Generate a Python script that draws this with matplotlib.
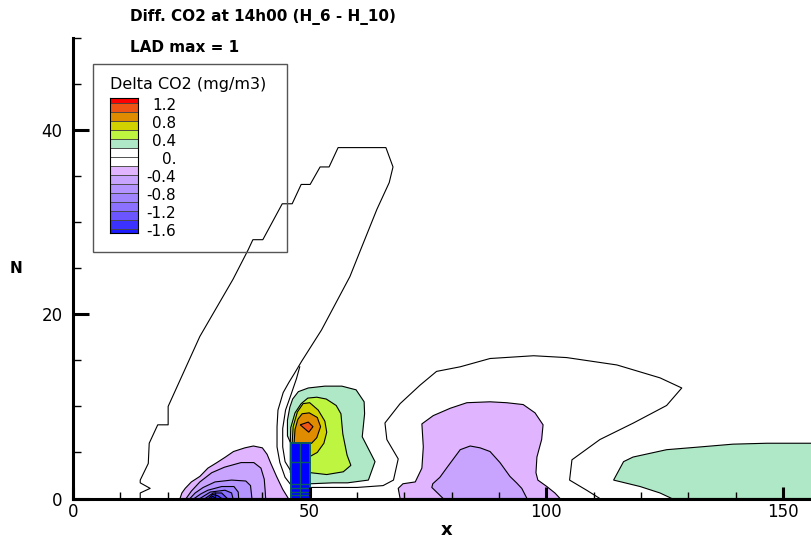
import numpy as np
import matplotlib
matplotlib.use('Agg')
import matplotlib.pyplot as plt
from matplotlib.patches import Rectangle
from matplotlib.transforms import blended_transform_factory

plt.rcParams['font.family'] = ['DejaVu Sans']

# Contour bands of Delta CO2 (mg/m3), bottom to top
level_edges = [-1.7, -1.6, -1.4, -1.2, -1.0, -0.8, -0.6, -0.4, -0.2,
               0.0, 0.2, 0.4, 0.6, 0.8, 1.0, 1.2, 1.3]
band_colors = ['#1c1cff', '#3c32ff', '#6a55ff', '#8c70ff', '#a085ff',
               '#b495ff', '#c9a4ff', '#e1b4ff', '#ffffff', '#ffffff',
               '#aee8c6', '#bdf540', '#d2d200', '#e08c00', '#f05414', '#ff0000']
legend_ticks = [1.2, 0.8, 0.4, 0.0, -0.4, -0.8, -1.2, -1.6]
legend_labels = ['1.2', '0.8', '0.4', '0.', '-0.4', '-0.8', '-1.2', '-1.6']

# Contours: (x, N) outlines
# negative cell left of the tree
left_m02 = [(22.6, 0), (23.0, 0.6), (23.7, 1.1), (25.0, 1.8), (26.8, 2.4), (28.5, 3.3),
            (30.4, 3.9), (32.2, 4.5), (33.9, 5.1), (36.3, 5.5), (38.1, 5.7), (40.0, 5.5),
            (41.0, 4.8), (41.8, 3.8), (43.0, 2.4), (44.3, 1.0), (45.5, 0)]
left_m04 = [(23.9, 0), (25.0, 0.8), (26.8, 1.8), (29.3, 2.8), (32.0, 3.4), (35.5, 3.9),
            (38.2, 3.9), (39.7, 3.3), (40.4, 2.1), (40.6, 0.8), (40.7, 0)]
left_m06 = [(24.7, 0), (25.8, 0.6), (27.5, 1.2), (30.0, 1.8), (33.5, 2.0), (36.5, 1.9),
            (37.5, 1.4), (37.8, 0)]
left_m08 = [(25.6, 0), (27.0, 0.5), (28.5, 0.9), (31.4, 1.3), (34.0, 1.3), (34.9, 0.7), (35.0, 0)]
left_m10 = [(26.8, 0), (29.0, 0.7), (32.1, 0.9), (33.5, 0.6), (33.8, 0)]
left_m12 = [(27.9, 0), (29.6, 0.6), (31.4, 0.6), (32.6, 0)]
left_m14 = [(28.6, 0), (29.5, 0.45), (30.6, 0.3), (31.4, 0)]
left_m16 = [(29.0, 0), (29.5, 0.25), (30.1, 0)]

# positive cell above the tree
blob_p02 = [(46.0, 6.0), (45.3, 6.8), (45.3, 8.5), (45.8, 9.9), (46.4, 10.8), (47.6, 11.6),
            (49.7, 12.0), (53.2, 12.2), (56.8, 12.2), (59.8, 11.8), (61.5, 10.5), (61.6, 9.2),
            (61.1, 6.7), (63.8, 4.0), (62.4, 2.0), (58.0, 1.7), (54.9, 1.7), (50.2, 1.6), (46.0, 1.6)]
blob_p04 = [(45.9, 6.0), (46.0, 7.7), (46.9, 9.3), (48.2, 10.3), (49.6, 10.9), (51.5, 11.0),
            (53.5, 10.8), (55.6, 10.1), (56.6, 9.2), (57.0, 7.0), (57.9, 4.7), (58.7, 3.6),
            (57.1, 2.9), (53.6, 2.6), (50.2, 2.8), (45.9, 2.8)]
blob_p06 = [(46.3, 6.0), (46.5, 7.8), (47.4, 9.4), (48.6, 10.3), (50.0, 10.4), (51.8, 9.6),
            (53.2, 8.4), (53.6, 7.2), (53.0, 6.0), (51.6, 5.0), (50.2, 4.6), (46.3, 4.6)]
blob_p08 = [(46.7, 6.0), (46.9, 7.5), (47.5, 8.6), (48.4, 9.2), (49.9, 9.3), (51.6, 8.8),
            (52.3, 7.8), (51.5, 6.6), (50.4, 6.0)]
blob_p10 = [(48.0, 8.0), (49.7, 8.3), (50.7, 7.8), (49.8, 7.2)]

# negative cell downstream
right_m02 = [(69.1, 0), (68.7, 1.1), (69.7, 1.6), (72.3, 1.8), (73.7, 3.3), (74.0, 5.6),
             (73.7, 8.1), (76.1, 9.0), (79.7, 9.8), (83.2, 10.4), (88.1, 10.5), (91.6, 10.4),
             (95.1, 10.2), (97.6, 9.3), (99.3, 8.0), (99.0, 6.4), (98.0, 4.5), (97.8, 2.8),
             (98.2, 2.0), (100.1, 1.3), (101.8, 0.6), (102.9, 0)]
right_m04 = [(78.2, 0), (77.0, 0.6), (75.8, 1.2), (76.0, 1.6), (77.5, 2.3), (79.2, 3.5),
             (81.8, 5.3), (83.9, 5.7), (86.0, 5.5), (88.1, 5.1), (90.2, 3.9), (92.3, 2.4),
             (93.7, 1.7), (94.8, 1.1), (95.9, 0)]

# positive cell far downstream
far_p02 = [(126.5, 0), (124.0, 0.6), (119.8, 1.3), (114.2, 2.0), (116.3, 4.0), (118.3, 4.5),
           (125.4, 5.3), (132.5, 5.6), (139.4, 5.9), (146.6, 6.0), (160.0, 6.0), (160.0, 0)]

# zero contours (lines only)
zero_plume = [(14.2, 0), (14.2, 0.6), (16.3, 1.1), (14.2, 1.7), (14.2, 2.0), (15.9, 3.8),
              (16.1, 6.0), (17.9, 8.0), (20.1, 8.0), (20.1, 10.0), (26.8, 17.6), (33.8, 23.8),
              (37.0, 27.0), (38.0, 28.1), (40.1, 28.1), (44.2, 32.0), (46.3, 32.0), (48.2, 34.1),
              (50.1, 34.1), (52.2, 36.0), (54.1, 36.0), (56.0, 38.1), (66.1, 38.1), (67.6, 36.0),
              (66.8, 34.3), (64.2, 31.4), (60.6, 26.8), (58.5, 24.1), (52.5, 18.3), (48.3, 14.9),
              (46.8, 13.6), (45.6, 12.6), (44.4, 11.5), (43.3, 9.6), (43.1, 7.8), (43.1, 5.6),
              (43.7, 3.9), (44.8, 2.3), (46.0, 1.5)]
zero_inner = [(47.9, 14.3), (47.2, 13.0), (46.0, 11.2), (44.9, 9.6), (44.3, 7.6), (44.3, 5.6),
              (44.8, 4.0), (46.0, 3.0)]
zero_wake = [(50.2, 1.2), (55.0, 1.2), (60.0, 1.2), (65.5, 1.4), (67.7, 2.0), (68.7, 4.3),
             (66.3, 6.4), (65.9, 8.2), (69.1, 10.3), (73.3, 12.3), (76.8, 13.8), (81.8, 14.3),
             (88.1, 15.2), (97.3, 15.5), (104.3, 15.3), (114.9, 14.5), (124.0, 13.1),
             (128.6, 12.0), (125.4, 10.1), (118.4, 8.2), (111.3, 6.4), (105.4, 4.2),
             (104.9, 2.0), (108.5, 0.9), (111.3, 0)]

filled = [
    (-0.2, left_m02), (-0.4, left_m04), (-0.6, left_m06), (-0.8, left_m08),
    (-1.0, left_m10), (-1.2, left_m12), (-1.4, left_m14), (-1.6, left_m16),
    (0.2, blob_p02), (0.4, blob_p04), (0.6, blob_p06), (0.8, blob_p08), (1.0, blob_p10),
    (-0.2, right_m02), (-0.4, right_m04), (0.2, far_p02),
]
lines = [zero_plume, zero_inner, zero_wake]

# tree block and its grid
tree_x = [46, 50]
tree_top = 6
tree_rows = [0.35, 0.75, 1.15, 1.6, 4.0]
tree_col = 48


def band_color(level):
    edges = np.array(level_edges)
    if level < 0:
        i = np.argmin(np.abs(edges[1:] - level))
    else:
        i = np.argmin(np.abs(edges[:-1] - level))
    return band_colors[i]


W, H = 811, 543
fig = plt.figure(figsize=(W / 100, H / 100), dpi=100)
ax = fig.add_axes([73 / W, 44.5 / H, 738 / W, 460.5 / H])

for level, pts in filled:
    xs, ys = zip(*pts)
    ax.fill(xs, ys, facecolor=band_color(level), edgecolor='black', linewidth=0.8, zorder=2)
for pts in lines:
    xs, ys = zip(*pts)
    ax.plot(xs, ys, color='black', linewidth=0.8, zorder=2)

ax.add_patch(Rectangle((tree_x[0], 0), tree_x[1] - tree_x[0], tree_top,
                       facecolor='#0000ff', edgecolor='#0b5c5c', linewidth=1.4, zorder=3))
ax.hlines(tree_rows, tree_x[0], tree_x[1], color='#0b5c5c', linewidth=1.0, zorder=3.1)
ax.vlines(tree_col, 0, tree_top, color='#0b5c5c', linewidth=1.0, zorder=3.1)

ax.set_xlim(0, 155.9)
ax.set_ylim(0, 50)
ax.spines['top'].set_visible(False)
ax.spines['right'].set_visible(False)
for s in ['left', 'bottom']:
    ax.spines[s].set_linewidth(2.2)
    ax.spines[s].set_zorder(5)
ax.xaxis.set_zorder(5)
ax.yaxis.set_zorder(5)

ax.set_xticks([0, 50, 100, 150])
ax.set_xticks(np.arange(10, 150, 10), minor=True)
ax.set_yticks([0, 20, 40])
ax.set_yticks(np.arange(5, 50.1, 5), minor=True)
ax.tick_params(axis='x', which='major', direction='in', length=8.5, width=2.2,
               labelsize=12, pad=3.5)
ax.tick_params(axis='x', which='minor', direction='in', length=5, width=1)
ax.tick_params(axis='y', which='major', direction='in', length=11.5, width=2.2,
               labelsize=12, pad=7.5)
ax.tick_params(axis='y', which='minor', direction='in', length=6, width=1)

fig.text(130 / W, 1 - 17 / H, 'Diff. CO2 at 14h00 (H_6 - H_10)', fontsize=11,
         fontweight='bold', ha='left', va='center')
fig.text(130 / W, 1 - 47 / H, 'LAD max = 1', fontsize=11, fontweight='bold',
         ha='left', va='center')
fig.text(16 / W, 1 - 268 / H, 'N', fontsize=11, fontweight='bold', ha='center', va='center')
fig.text(447 / W, 1 - 530 / H, 'x', fontsize=13, fontweight='bold', ha='center', va='center')

# legend box
fig.patches.append(Rectangle((93 / W, 1 - 252 / H), 194 / W, 188 / H, fill=False,
                             edgecolor='#555555', linewidth=1.0,
                             transform=fig.transFigure, zorder=6))
fig.text(110 / W, 1 - 85 / H, 'Delta CO2 (mg/m3)', fontsize=11.5, ha='left', va='center')

cax = fig.add_axes([110 / W, 1 - 233 / H, 28 / W, 135 / H])
cax.bar(0, np.diff(level_edges), bottom=level_edges[:-1], width=1,
        color=band_colors, edgecolor='#444444', linewidth=0.6)
cax.set_xlim(-0.5, 0.5)
cax.set_ylim(level_edges[0], level_edges[-1])
cax.set_xticks([])
cax.set_yticks([])
for s in cax.spines.values():
    s.set_linewidth(0.8)
tr = blended_transform_factory(cax.transAxes, cax.transData)
for v, lab in zip(legend_ticks, legend_labels):
    cax.text(2.36, v - 0.065, lab, transform=tr, fontsize=11, ha='right', va='center')

fig.savefig('out.png', dpi=100)
